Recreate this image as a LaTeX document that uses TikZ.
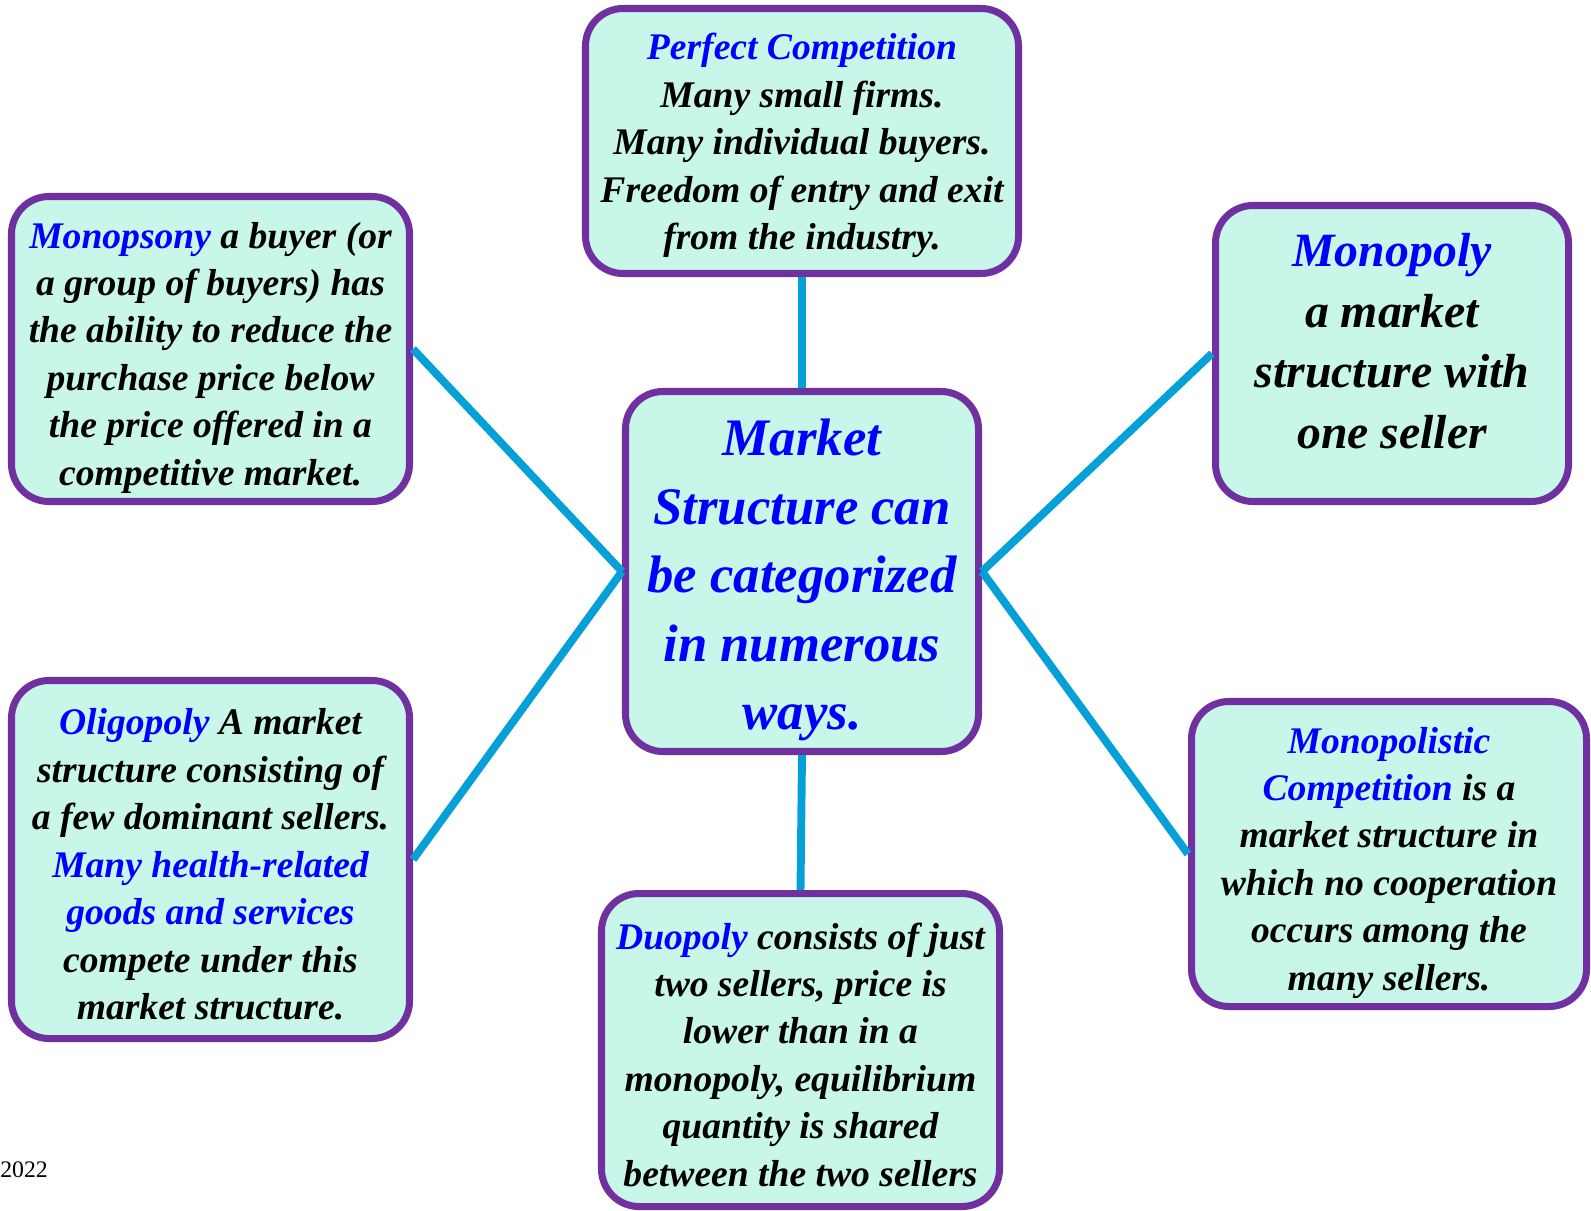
\documentclass[tikz,border=0pt]{standalone}
\usepackage{fontspec}
\setmainfont{Liberation Serif}
\definecolor{boxfill}{HTML}{C8F7EA}
\definecolor{boxedge}{HTML}{7030A0}
\definecolor{termblue}{HTML}{0000FF}
\definecolor{linkblue}{HTML}{06A0D8}

\begin{document}
\begin{tikzpicture}[
        x=0.02cm, y=-0.02cm,
        marketbox/.style={
            draw=boxedge,
            line width=4pt,
            rounded corners=0.75cm,
            fill=boxfill,
            inner sep=0pt,
            align=center,
            text depth=5.35pt,
            font=\fontsize{21.4}{27}\selectfont\bfseries\itshape
        },
        % text height for 5, 6 and 7 lines of the small font
        fivelines/.style={text height=128.8pt},
        sixlines/.style={text height=160.4pt},
        sevenlines/.style={text height=187.4pt},
        structurelink/.style={line width=4.5pt, linkblue}
    ]
        \useasboundingbox (0,0) rectangle (1591,1210);

        \node[marketbox, minimum width=353*0.02cm, minimum height=360*0.02cm,
              font=\fontsize{30}{39}\selectfont\bfseries\itshape, text=termblue,
              text height=187.9pt, text depth=7.5pt]
            (market) at (802,571.5)
            {Market\\Structure can\\be categorized\\in numerous\\ways.};

        \node[marketbox, fivelines, minimum width=433*0.02cm, minimum height=265*0.02cm]
            (perfect) at (802,141)
            {{\color{termblue}Perfect Competition}\\Many small firms.\\Many individual buyers.\\Freedom of entry and exit\\from the industry.};
        \node[marketbox, sixlines, minimum width=398*0.02cm, minimum height=305*0.02cm]
            (monopsony) at (210.5,349)
            {{\color{termblue}Monopsony} a buyer (or\\a group of buyers) has\\the ability to reduce the\\purchase price below\\the price offered in a\\competitive market.};
        \node[marketbox, minimum width=353*0.02cm, minimum height=296*0.02cm,
              font=\fontsize{27.2}{34.6}\selectfont\bfseries\itshape,
              text height=115.2pt, text depth=6.8pt]
            (monopoly) at (1392,353.5)
            {{\color{termblue}Monopoly}\\a market\\structure with\\one seller};
        \node[marketbox, sevenlines, minimum width=398*0.02cm, minimum height=358*0.02cm]
            (oligopoly) at (210.5,859.5)
            {{\color{termblue}Oligopoly} A market\\structure consisting of\\a few dominant sellers.\\{\color{termblue}Many health-related}\\{\color{termblue}goods and services}\\compete under this\\market structure.};
        \node[marketbox, sixlines, minimum width=395*0.02cm, minimum height=305*0.02cm]
            (monopolistic) at (1389,854)
            {{\color{termblue}Monopolistic}\\{\color{termblue}Competition} is a\\market structure in\\which no cooperation\\occurs among the\\many sellers.};
        \node[marketbox, sixlines, minimum width=398*0.02cm, minimum height=313*0.02cm]
            (duopoly) at (800.5,1050)
            {{\color{termblue}Duopoly} consists of just\\two sellers, price is\\lower than in a\\monopoly, equilibrium\\quantity is shared\\between the two sellers};

        \node[anchor=base west, inner sep=0pt, font=\fontsize{13.5}{16}\selectfont] (year) at (0,1177) {2022};

        % spokes from the centre box
        \draw[structurelink] (perfect.south) -- (market.north);
        \draw[structurelink] (market.south) -- (duopoly.north);
        \draw[structurelink] (monopsony.east) -- (market.west);
        \draw[structurelink] (oligopoly.east) -- (market.west);
        \draw[structurelink] (monopoly.west) -- (market.east);
        \draw[structurelink] (monopolistic.west) -- (market.east);
    \end{tikzpicture}
\end{document}
